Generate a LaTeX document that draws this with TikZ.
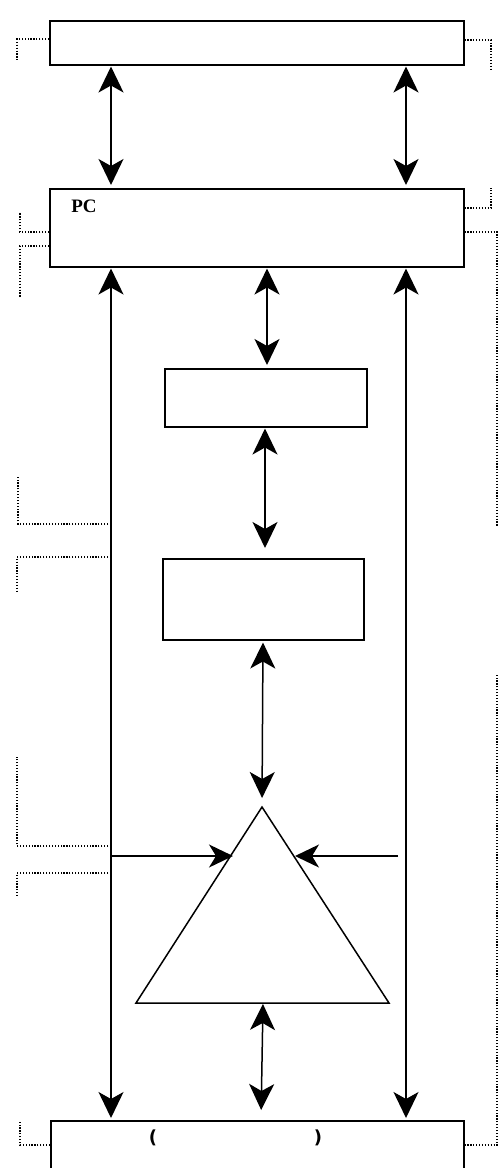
\documentclass[tikz,border=0pt]{standalone}
\usepackage{fontspec}
\setmainfont{Liberation Serif}
\newfontfamily\parfont{DejaVu Sans}
\usetikzlibrary{arrows.meta}
\begin{document}
\begin{tikzpicture}[x=1pt,y=-1pt,
  box/.style={draw,line width=1.5pt,rectangle,inner sep=0pt,anchor=north west},
  conn/.style={line width=1.5pt},
  tipd/.style={conn,{Stealth[length=26pt,width=25pt,inset=7pt]}-{Stealth[length=26pt,width=25pt,inset=7pt]}},
  tipe/.style={conn,-{Stealth[length=24pt,width=23pt,inset=7pt]}},
  dots/.style={line width=1.2pt,dash pattern=on 1.2pt off 1.7pt},
  paren/.style={font=\parfont\bfseries\fontsize{18}{18}\selectfont}]
\useasboundingbox (0,0) rectangle (502,1168);
% boxes
\node[box,minimum width=414pt,minimum height=44pt] (top) at (49,20) {};
\node[box,minimum width=414pt,minimum height=78pt] (pc) at (49,188) {};
\node[box,minimum width=202pt,minimum height=58pt] (b1) at (164,368) {};
\node[box,minimum width=201pt,minimum height=81pt] (b2) at (162,558) {};
\node[box,minimum width=413pt,minimum height=50pt] (bot) at (50,1120) {};
\node[font=\fontsize{19}{19}\selectfont\bfseries] (pcl) at (84,206) {PC};
\node[paren] (lp) at (153,1138) {(};
\node[paren] (rp) at (318,1138) {)};
% triangle
\coordinate (apex) at (262,807);
\coordinate (tbl) at (136,1003);
\coordinate (tbr) at (389,1003);
\draw[line width=1.5pt,line join=miter] (apex) -- (tbl) -- (tbr) -- cycle;
% x positions
\coordinate (xl) at (111,0);
\coordinate (xr) at (406,0);
% arrows top <-> pc
\draw[tipd,shorten <=1pt,shorten >=3pt] (top.south -| xl) -- (pc.north -| xl);
\draw[tipd,shorten <=1pt,shorten >=3pt] (top.south -| xr) -- (pc.north -| xr);
% long verticals pc <-> bottom
\draw[tipd,shorten <=1pt,shorten >=2pt] (pc.south -| xl) -- (bot.north -| xl);
\draw[tipd,shorten <=1pt,shorten >=2pt] (pc.south -| xr) -- (bot.north -| xr);
% middle chain
\coordinate (m1) at (267,0);
\coordinate (m2) at (265,0);
\coordinate (m3) at (263,0);
\draw[tipd,shorten <=1pt,shorten >=3pt] (pc.south -| m1) -- (b1.north -| m1);
\draw[tipd,shorten <=1pt,shorten >=10pt] (b1.south -| m2) -- (b2.north -| m2);
\draw[tipd,shorten <=2pt,shorten >=9pt] (b2.south -| m3) -- (apex);
\draw[tipd,shorten <=1pt,shorten >=10pt] (263,1003) coordinate (tbm) -- (bot.north -| 261,0);
% side arrows into triangle
\coordinate (la) at (112,856);
\coordinate (lt) at (233,856);
\coordinate (ra) at (398,856);
\coordinate (rt) at (295,856);
\draw[tipe] (la) -- (lt);
\draw[tipe] (ra) -- (rt);
% dotted leaders - top box
\draw[dots] (top.west |- 0,39) -- (17,39) -- (17,60);
\draw[dots] (top.east |- 0,40) -- (491,40) -- (491,70);
% pc box
\draw[dots] (pc.west |- 0,232) -- (20,232) -- (20,213);
\draw[dots] (pc.west |- 0,246) -- (20,246) -- (20,297);
\draw[dots] (pc.east |- 0,208) -- (491,208) -- (491,188);
\draw[dots] (pc.east |- 0,232) -- (497,232) -- (497,527);
% left leaders from left vertical
\draw[dots] (xl |- 0,524) -- (18,524) -- (18,475);
\draw[dots] (xl |- 0,557) -- (17,557) -- (17,593);
\draw[dots] (xl |- 0,846) -- (17,846) -- (17,757);
\draw[dots] (xl |- 0,873) -- (17,873) -- (17,897);
% bottom box
\draw[dots] (bot.west |- 0,1145) -- (20,1145) -- (20,1120);
\draw[dots] (bot.east |- 0,1145) -- (497,1145) -- (497,673);
\end{tikzpicture}
\end{document}
